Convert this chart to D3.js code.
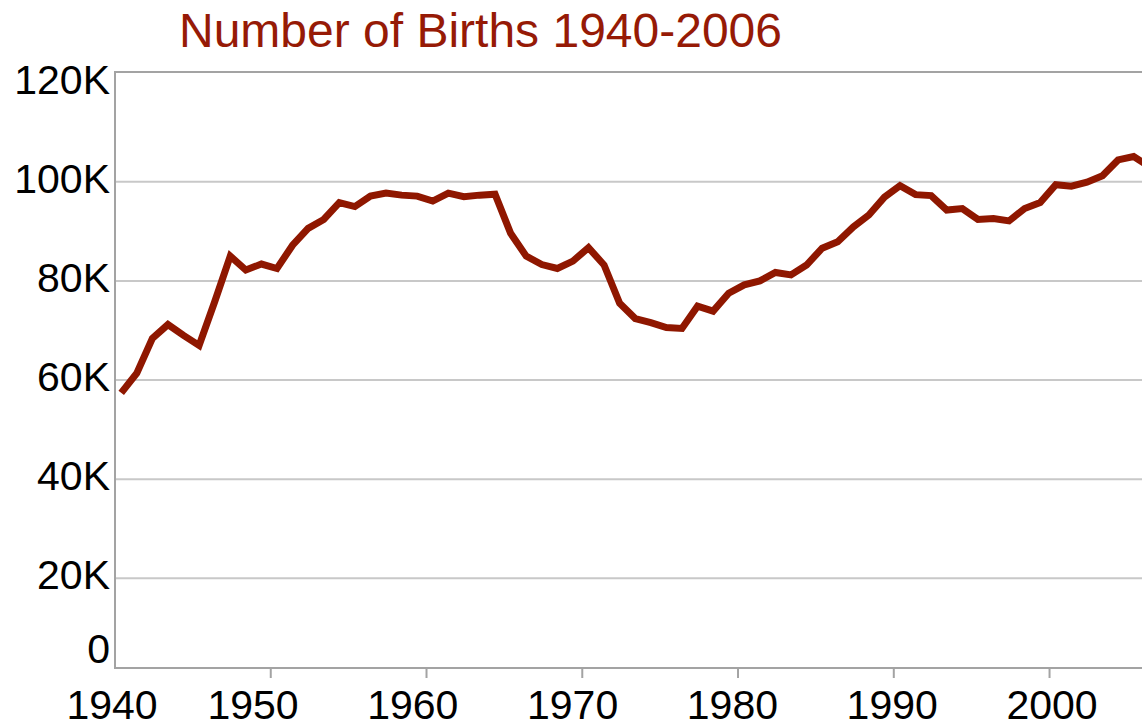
<!DOCTYPE html>
<html>
<head>
<meta charset="utf-8">
<script src="https://cdn.jsdelivr.net/npm/d3@7"></script>
<style>
html, body { margin: 0; padding: 0; background: #ffffff; }
svg { display: block; font-family: "Liberation Sans", Arial, Helvetica, sans-serif; }
</style>
</head>
<body>
<svg id="chart" width="1142" height="728"></svg>
<script>
// ---- Data ----
const years = [1940,1941,1942,1943,1944,1945,1946,1947,1948,1949,
               1950,1951,1952,1953,1954,1955,1956,1957,1958,1959,
               1960,1961,1962,1963,1964,1965,1966,1967,1968,1969,
               1970,1971,1972,1973,1974,1975,1976,1977,1978,1979,
               1980,1981,1982,1983,1984,1985,1986,1987,1988,1989,
               1990,1991,1992,1993,1994,1995,1996,1997,1998,1999,
               2000,2001,2002,2003,2004,2005,2006];
const births = [57400,61400,68400,71200,69000,67000,75800,85000,82200,83400,
                82500,87200,90600,92400,95800,95000,97100,97700,97300,97100,
                96100,97700,97000,97300,97500,89600,85000,83300,82500,84000,
                86700,83200,75500,72400,71600,70600,70400,74900,73900,77500,
                79200,80000,81700,81200,83200,86600,87900,90900,93300,96900,
                99200,97400,97200,94300,94600,92400,92600,92100,94600,95800,
                99400,99100,99900,101200,104400,105100,103100];
const yTicks = [0, 20000, 40000, 60000, 80000, 100000, 120000];
const yTickLabels = ["0", "20K", "40K", "60K", "80K", "100K", "120K"];
const xTicks = [1940, 1950, 1960, 1970, 1980, 1990, 2000];
const xTickLabels = ["1940", "1950", "1960", "1970", "1980", "1990", "2000"];
const title = "Number of Births 1940-2006";

// ---- Layout ----
const plot = { left: 115, right: 1143, top: 72, bottom: 668 };
const lineColor = "#8f1700";
const titleColor = "#961a06";
const gridColor = "#c8c8c8";
const axisColor = "#a3a3a3";

const svg = d3.select("#chart");

const x = d3.scaleLinear().domain([1940, 2006]).range([plot.left, plot.right]);
// labels in the reference are spread slightly wider than the ticks
const xLabel = d3.scaleLinear().domain([1950, 2000]).range([253, 1052]);
const y = d3.scaleLinear().domain([0, 120000]).range([677.5, 82.6]);
const pointOffset = 0.4; // points sit a little after each year tick

const data = years.map((yr, i) => ({ year: yr, value: births[i] }));

// clip
svg.append("defs").append("clipPath").attr("id", "plotClip")
  .append("rect")
  .attr("x", plot.left).attr("y", 0)
  .attr("width", plot.right - plot.left).attr("height", plot.bottom);

// gridlines (20K..100K)
svg.append("g").selectAll("line")
  .data(yTicks.filter(v => v > 0 && v < 120000))
  .join("line")
  .attr("x1", plot.left).attr("x2", plot.right)
  .attr("y1", d => y(d)).attr("y2", d => y(d))
  .attr("stroke", gridColor).attr("stroke-width", 2);

// frame: top, left, bottom
svg.append("line").attr("x1", plot.left).attr("x2", plot.right)
  .attr("y1", plot.top).attr("y2", plot.top)
  .attr("stroke", axisColor).attr("stroke-width", 2);
svg.append("line").attr("x1", plot.left).attr("x2", plot.left)
  .attr("y1", plot.top - 1).attr("y2", plot.bottom + 1)
  .attr("stroke", axisColor).attr("stroke-width", 2);
svg.append("line").attr("x1", plot.left).attr("x2", plot.right)
  .attr("y1", plot.bottom).attr("y2", plot.bottom)
  .attr("stroke", axisColor).attr("stroke-width", 2);

// x ticks
svg.append("g").selectAll("line")
  .data(xTicks.filter(t => t > 1940))
  .join("line")
  .attr("x1", d => x(d)).attr("x2", d => x(d))
  .attr("y1", plot.bottom).attr("y2", plot.bottom + 10)
  .attr("stroke", axisColor).attr("stroke-width", 2);

// x labels
svg.append("g").selectAll("text")
  .data(xTicks)
  .join("text")
  .attr("x", d => Math.max(xLabel(d), 112))
  .attr("y", 719)
  .attr("text-anchor", "middle")
  .attr("font-size", 41)
  .attr("fill", "#000")
  .text((d, i) => xTickLabels[i]);

// y labels
svg.append("g").selectAll("text")
  .data(yTicks)
  .join("text")
  .attr("x", 110)
  .attr("y", d => Math.min(y(d) + 11, 663))
  .attr("text-anchor", "end")
  .attr("font-size", 41)
  .attr("fill", "#000")
  .text((d, i) => yTickLabels[i]);

// line
const lineGen = d3.line()
  .x(d => x(d.year + pointOffset))
  .y(d => y(d.value));

svg.append("path")
  .datum(data)
  .attr("clip-path", "url(#plotClip)")
  .attr("fill", "none")
  .attr("stroke", lineColor)
  .attr("stroke-width", 7)
  .attr("stroke-linejoin", "miter")
  .attr("d", lineGen);

// title
svg.append("text")
  .attr("x", 179).attr("y", 47)
  .attr("font-size", 48)
  .attr("fill", titleColor)
  .text(title);
</script>
</body>
</html>
